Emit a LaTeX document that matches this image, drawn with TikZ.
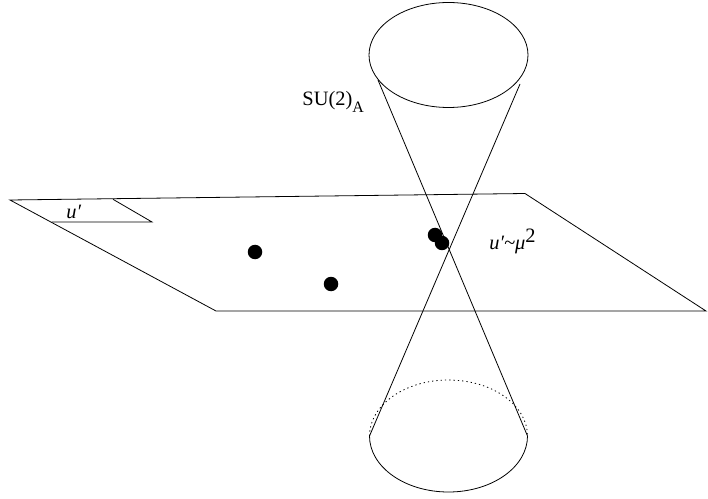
\documentclass[tikz,border=0pt]{standalone}
\usepackage{fontspec}
\setmainfont{Liberation Serif}
\begin{document}
\begin{tikzpicture}[x=1bp,y=-1bp,line width=0.8bp,
  lbl/.style={anchor=base west,inner sep=0pt,font=\fontsize{20.5}{22}\selectfont},
  blob/.style={circle,fill=black,inner sep=0pt,minimum size=14.5bp}]
\useasboundingbox (0,0) rectangle (708,499);
% plane
\coordinate (P1) at (10,200);
\coordinate (P2) at (525,193.5);
\coordinate (P3) at (706,311);
\coordinate (P4) at (216,311);
\draw (P1) -- (P2) -- (P3) -- (P4) -- cycle;
% small parallelogram
\coordinate (Q1) at (113,199.3);
\coordinate (Q2) at (152,222);
\coordinate (Q3) at (51.5,222);
\draw (Q1) -- (Q2) -- (Q3);
\node[lbl] (uq) at (66,218.5) {\itshape u′};
% cone top
\draw (448.5,55) ellipse [x radius=79.5, y radius=52.5];
\coordinate (TL) at (378,80);
\coordinate (TR) at (520,84);
% cone bottom
\coordinate (BL) at (369.5,436);
\coordinate (BR) at (527.5,436);
\draw (BL) arc[start angle=180,end angle=0,x radius=79,y radius=56];
\draw[dash pattern=on 1.3bp off 3bp] (BL) arc[start angle=180,end angle=360,x radius=79,y radius=56];
% generators
\draw (TL) -- (BR);
\draw (TR) -- (BL);
% dots
\node[blob] (d1) at (255,252) {};
\node[blob] (d2) at (331,284) {};
\node[blob] (d3) at (435,235) {};
\node[blob] (d4) at (442,243) {};
% labels
\node[lbl] (su) at (302,106) {SU(2)\raisebox{-6.5bp}{\fontsize{16}{16}\selectfont A}};
\node[lbl] (mu) at (489,250) {\itshape u′\textasciitilde μ\raisebox{7bp}{\upshape 2}};
\end{tikzpicture}
\end{document}
